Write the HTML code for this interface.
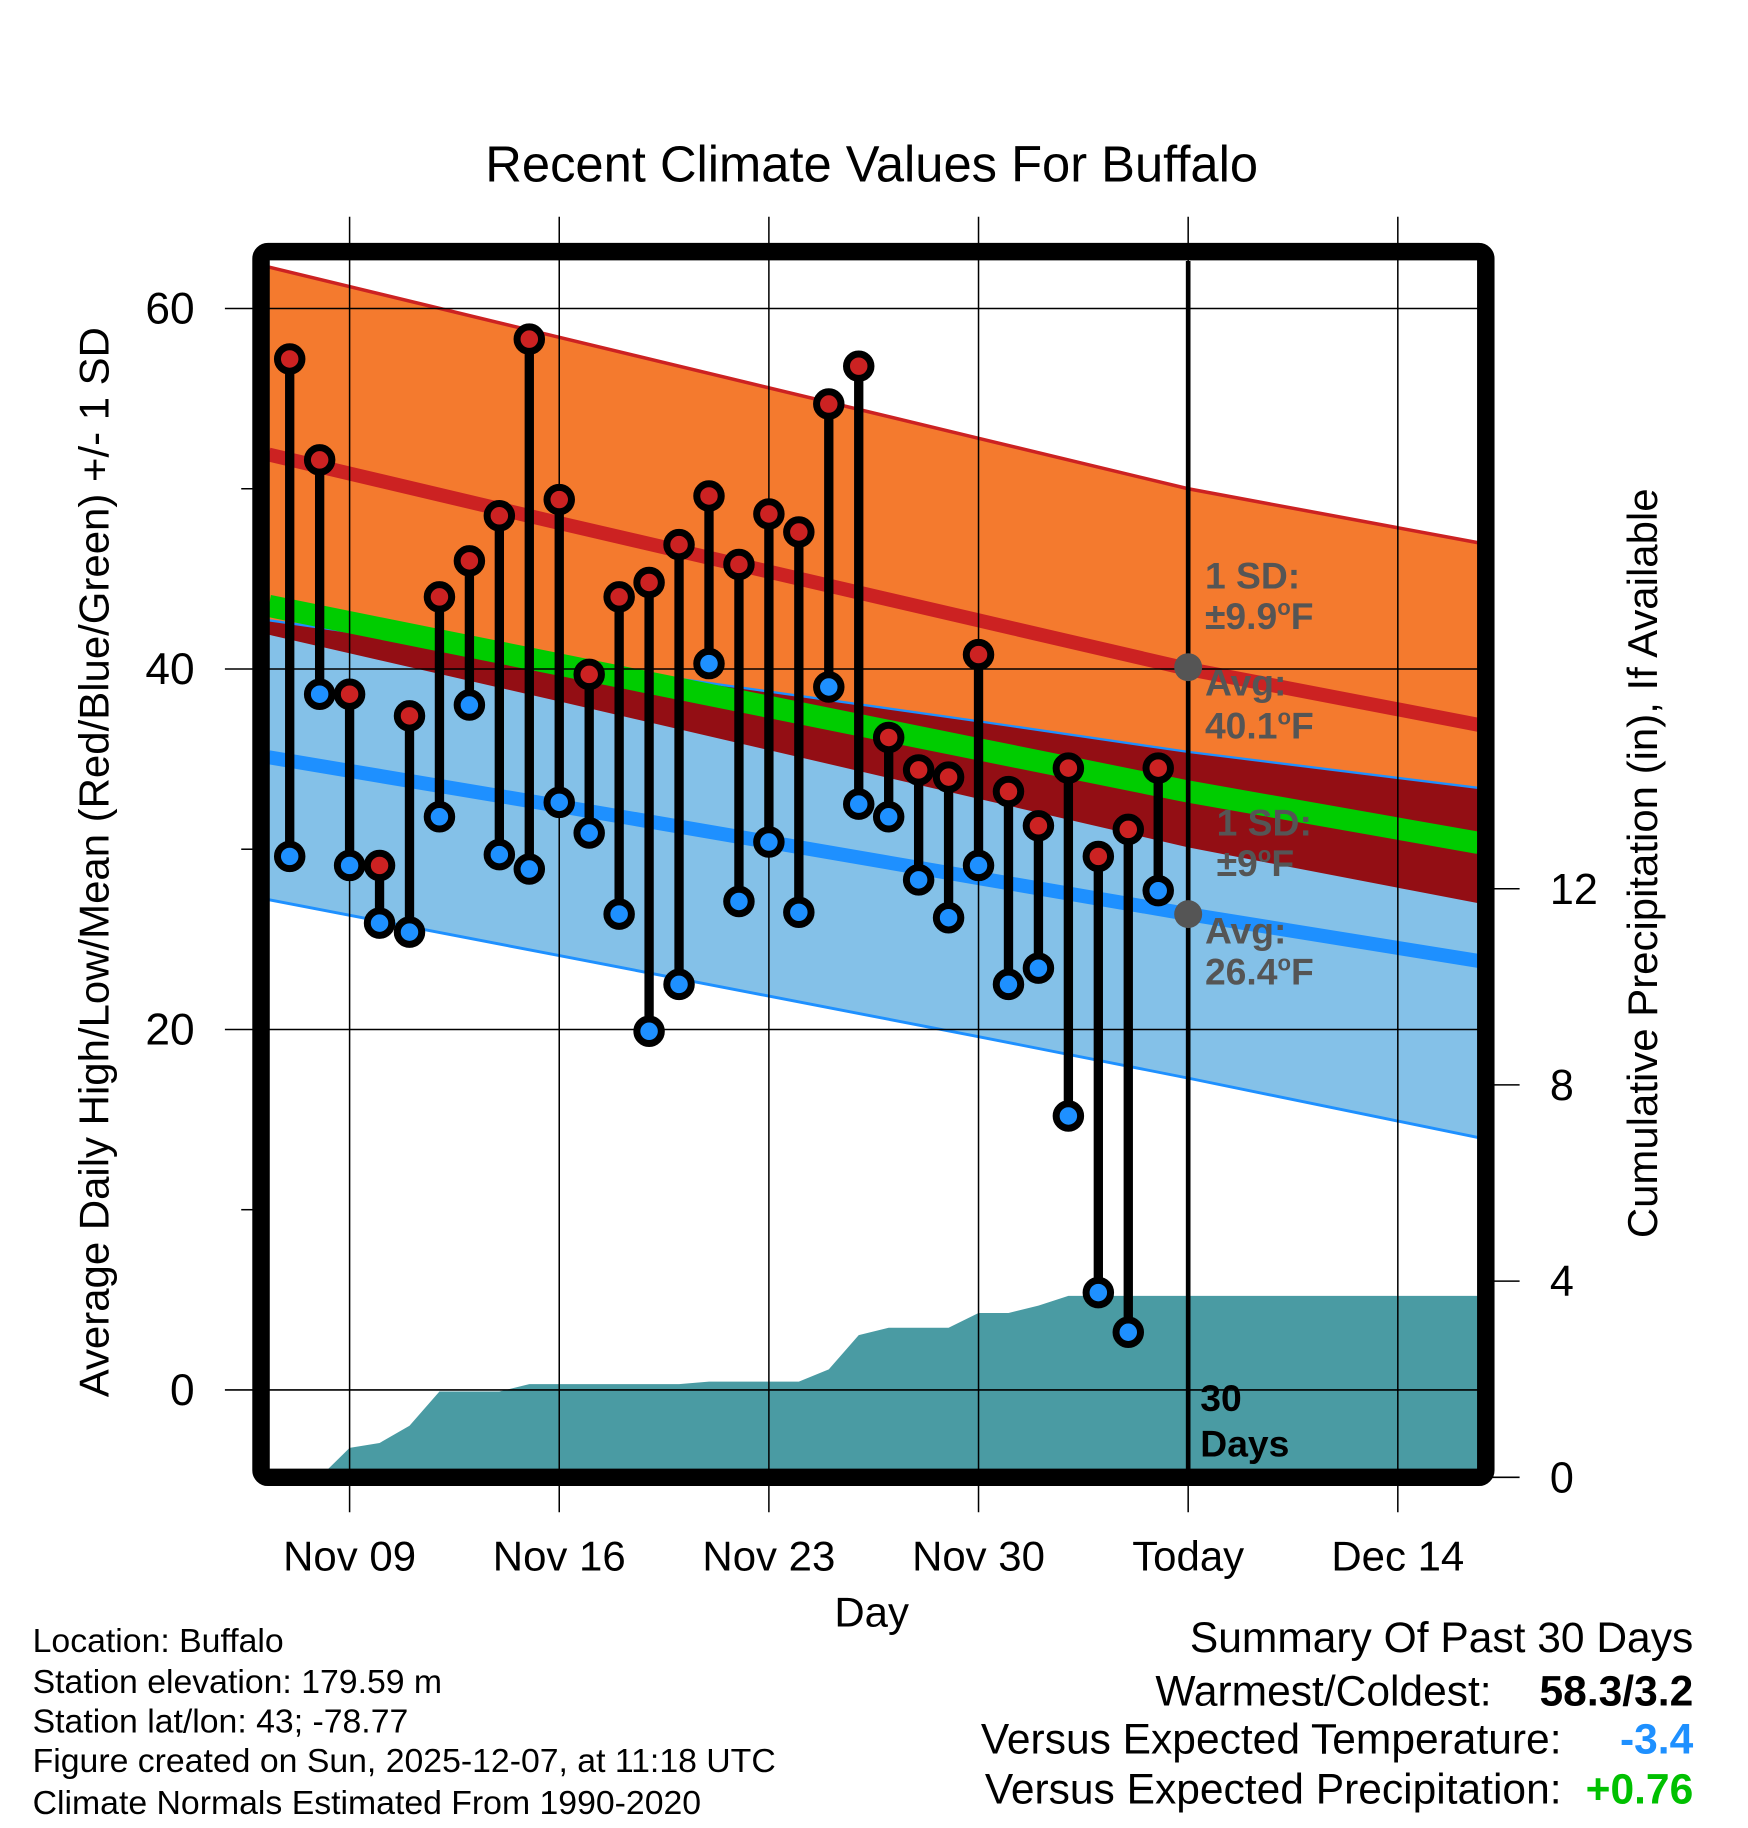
<!DOCTYPE html>
<html><head><meta charset="utf-8"><style>
html,body{margin:0;padding:0;background:#fff;}
svg{display:block;font-family:"Liberation Sans",Arial,sans-serif;}
</style></head><body>
<svg id="chart" width="1748" height="1828" viewBox="0 0 1500 1569" preserveAspectRatio="none" xmlns="http://www.w3.org/2000/svg">
<defs><clipPath id="plotclip"><rect x="231" y="224" width="1037" height="1037"/></clipPath></defs>
<text x="748" y="156" font-size="43.5" text-anchor="middle">Recent Climate Values For Buffalo</text>
<g id="bands" clip-path="url(#plotclip)"></g>
<g id="grid"></g>
<g id="marks"></g>
<rect x="224" y="216" width="1051" height="1052" rx="6" fill="none" stroke="#000" stroke-width="15"/>
<g id="labels"></g>
<text transform="translate(93,740) rotate(-90)" font-size="36" text-anchor="middle">Average Daily High/Low/Mean (Red/Blue/Green) +/- 1 SD</text>
<text transform="translate(1422,741) rotate(-90)" font-size="36" text-anchor="middle">Cumulative Precipitation (in), If Available</text>
<text x="748" y="1396" font-size="36" text-anchor="middle">Day</text>
<g font-size="32" font-weight="bold" fill="#555">
<text x="1034" y="505">1 SD:</text>
<text x="1034" y="540">±9.9<tspan font-size="19" dy="-12">o</tspan><tspan dy="12">F</tspan></text>
<text x="1034" y="597">Avg:</text>
<text x="1034" y="634">40.1<tspan font-size="19" dy="-12">o</tspan><tspan dy="12">F</tspan></text>
</g>
<g font-size="32" font-weight="bold" fill="#555">
<text x="1044" y="717">1 SD:</text>
<text x="1044" y="752">±9<tspan font-size="19" dy="-12">o</tspan><tspan dy="12">F</tspan></text>
<text x="1034" y="810">Avg:</text>
<text x="1034" y="845">26.4<tspan font-size="19" dy="-12">o</tspan><tspan dy="12">F</tspan></text>
</g>
<g font-size="32" font-weight="bold">
<text x="1030" y="1211">30</text><text x="1030" y="1250">Days</text>
</g>
<g font-size="29">
<text x="28" y="1418">Location: Buffalo</text>
<text x="28" y="1453">Station elevation: 179.59 m</text>
<text x="28" y="1487">Station lat/lon: 43; -78.77</text>
<text x="28" y="1521">Figure created on Sun, 2025-12-07, at 11:18 UTC</text>
<text x="28" y="1557">Climate Normals Estimated From 1990-2020</text>
</g>
<g font-size="36.5" text-anchor="end">
<text x="1453" y="1418">Summary Of Past 30 Days</text>
<text x="1280" y="1464">Warmest/Coldest:</text>
<text x="1453" y="1464" font-weight="bold">58.3/3.2</text>
<text x="1340" y="1505">Versus Expected Temperature:</text>
<text x="1453" y="1505" font-weight="bold" fill="#1e90ff">-3.4</text>
<text x="1340" y="1548">Versus Expected Precipitation:</text>
<text x="1453" y="1548" font-weight="bold" fill="#00c000">+0.76</text>
</g>
</svg>
<script>
// ---- data ----
const days = [-2,-1,0,1,2,3,4,5,6,7,8,9,10,11,12,13,14,15,16,17,18,19,20,21,22,23,24,25,26,27];
const highs = [57.2,51.6,38.6,29.1,37.4,44.0,46.0,48.5,58.3,49.4,39.7,44.0,44.8,46.9,49.6,45.8,48.6,47.6,54.7,56.8,36.2,34.4,34.0,40.8,33.2,31.3,34.5,29.6,31.1,34.5];
const lows = [29.6,38.6,29.1,25.9,25.4,31.8,38.0,29.7,28.9,32.6,30.9,26.4,19.9,22.5,40.3,27.1,30.4,26.5,39.0,32.5,31.8,28.3,26.2,29.1,22.5,23.4,15.2,5.4,3.2,27.7];
const precip = [0,0,0.6,0.7,1.05,1.75,1.75,1.75,1.9,1.9,1.9,1.9,1.9,1.9,1.95,1.95,1.95,1.95,2.2,2.9,3.05,3.05,3.05,3.35,3.35,3.5,3.7,3.7,3.7,3.7];
const normDays = [-2.7,7,21,28,37.7];
const highTop = [62.3,58.4,52.8,50.0,47.0];
const highMean = [51.9,48.1,42.7,40.0,36.9];
const highBottom = [41.9,38.2,32.8,30.1,27.0];
const lowTop = [42.7,40.4,37.1,35.4,33.4];
const lowMean = [35.1,32.4,28.4,26.4,23.8];
const lowBottom = [27.2,24.1,19.6,17.3,14.0];
const xTickDays = [0,7,14,21,28,35];
const xTickLabels = ["Nov 09","Nov 16","Nov 23","Nov 30","Today","Dec 14"];
const yTicks = [0,20,40,60];
const yMinor = [10,30,50];
const y2Ticks = [0,4,8,12];
const todayDay = 28;

// ---- axes ----
const X = d => 300 + 25.7*d;
const Y = v => 1193 - 15.47*v;
const Y2 = p => 1268 - 42.1*p;
const NS = "http://www.w3.org/2000/svg";
function mk(parent, tag, attrs){const e=document.createElementNS(NS,tag);for(const k in attrs)e.setAttribute(k,attrs[k]);parent.appendChild(e);return e;}
const bands=document.getElementById('bands'), grid=document.getElementById('grid'), marks=document.getElementById('marks'), labels=document.getElementById('labels');
const pts = arr => normDays.map((d,i)=>X(d)+','+Y(arr[i]));
function band(top,bot,fill,name){
  const p = pts(top).concat(pts(bot).reverse()).join(' ');
  const e = mk(bands,'polygon',{points:p,fill:fill});
  
  
}
function line(arr,color,w,name){
  const e = mk(bands,'polyline',{points:pts(arr).join(' '),fill:'none',stroke:color,'stroke-width':w});
  
  
}
band(highTop,highBottom,'#f47a2e','high-sd-band');
band(lowTop,lowBottom,'#84c1e8','low-sd-band');
band(lowTop,highBottom,'#930e14','overlap-band');
line(highTop,'#cc2222',3,'high-upper-line');
line(lowTop,'#1e90ff',2,'low-upper-line');
line(lowBottom,'#1e90ff',2.5,'low-lower-line');
const meanArr = highMean.map((v,i)=>(v+lowMean[i])/2);
line(meanArr,'#00cc00',19,'mean-line');
line(highMean,'#cc2222',12,'high-mean-line');
line(lowMean,'#1e90ff',12,'low-mean-line');
// precip
let pp = [X(-2.7)+','+Y2(0)];
days.forEach((d,i)=>pp.push(X(d)+','+Y2(precip[i])));
pp.push('1268,'+Y2(precip[precip.length-1]));
pp.push('1268,1261','231,1261');
const pe = mk(bands,'polygon',{points:pp.join(' '),fill:'#4a9ba3'});



// grid
xTickDays.forEach((d,i)=>{
  const g = mk(grid,'line',{x1:X(d),x2:X(d),y1:186,y2:1298,stroke:'#000','stroke-width':1.3});
  
  
  const t = mk(labels,'text',{x:X(d),y:1348,'font-size':36,'text-anchor':'middle'});
  t.textContent = xTickLabels[i];
  
  
});
yTicks.forEach(v=>{
  const g = mk(grid,'line',{x1:193,x2:1268,y1:Y(v),y2:Y(v),stroke:'#000','stroke-width':1.3});
  
  
  const t = mk(labels,'text',{x:167,y:Y(v)+13,'font-size':38,'text-anchor':'end'});
  t.textContent = v;
  
  
});
yMinor.forEach(v=>{
  const g = mk(grid,'line',{x1:207,x2:220,y1:Y(v),y2:Y(v),stroke:'#000','stroke-width':1.3});
  
  
});
y2Ticks.forEach(p=>{
  const g = mk(grid,'line',{x1:1280,x2:1304,y1:Y2(p),y2:Y2(p),stroke:'#000','stroke-width':1.3});
  
  
  const t = mk(labels,'text',{x:1330,y:Y2(p)+13,'font-size':37});
  t.textContent = p;
  
  
});
const tl = mk(grid,'line',{x1:X(todayDay),x2:X(todayDay),y1:224,y2:1261,stroke:'#000','stroke-width':4});


[[40.1,'high-avg-dot'],[26.4,'low-avg-dot']].forEach(a=>{
  const c = mk(grid,'circle',{cx:X(todayDay),cy:Y(a[0]),r:12,fill:'#555'});
  
  
});

// temperature stems
days.forEach((d,i)=>{
  const x = X(d);
  const s = mk(marks,'line',{x1:x,x2:x,y1:Y(highs[i]),y2:Y(lows[i]),stroke:'#000','stroke-width':8});
  
  
  const h = mk(marks,'circle',{cx:x,cy:Y(highs[i]),r:10.5,fill:'#cc2222',stroke:'#000','stroke-width':6});
  
  
  const l = mk(marks,'circle',{cx:x,cy:Y(lows[i]),r:10.5,fill:'#1e90ff',stroke:'#000','stroke-width':6});
  
  
});
</script>
</body></html>
